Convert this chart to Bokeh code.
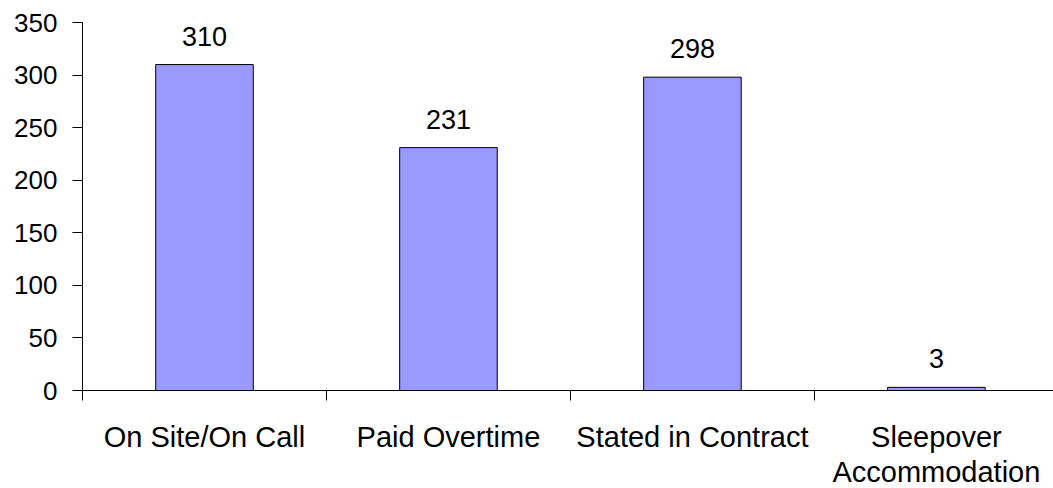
from bokeh.plotting import figure
from bokeh.models import ColumnDataSource, FixedTicker, LabelSet, Range1d
from bokeh.core.properties import value
from bokeh.embed import file_html
from bokeh.resources import INLINE

categories = ["On Site/On Call", "Paid Overtime", "Stated in Contract", "Sleepover\nAccommodation"]
values = [310, 231, 298, 3]
y_ticks = [0, 50, 100, 150, 200, 250, 300, 350]

centers = [i + 0.5 for i in range(len(categories))]
bounds = list(range(len(categories) + 1))

src = ColumnDataSource(dict(x=centers, top=values, label=[str(v) for v in values]))

FONT = "Liberation Sans"

p = figure(frame_width=971, frame_height=368, output_backend="svg", toolbar_location=None,
           x_range=Range1d(0, 3.98), y_range=Range1d(0, 350),
           min_border_left=82, min_border_right=0, min_border_top=22, min_border_bottom=0)
p.outline_line_color = None
p.xgrid.visible = False
p.ygrid.visible = False
p.background_fill_color = "white"
p.border_fill_color = "white"

p.vbar(x="x", top="top", bottom=0, width=0.4, source=src,
       fill_color="#9999FF", line_color="black", line_width=1)

labels = LabelSet(x="x", y="top", text="label", source=src, text_align="center",
                  text_baseline="alphabetic", y_offset=19,
                  text_font=value(FONT), text_font_size=value("27px"), text_color="black")
p.add_layout(labels)

# x axis
xa = p.xaxis[0]
xa.ticker = FixedTicker(ticks=centers, minor_ticks=bounds)
xa.major_label_overrides = {c: lab for c, lab in zip(centers, categories)}
xa.major_tick_out = 0
xa.major_tick_in = 0
xa.minor_tick_out = 10
xa.minor_tick_in = 0
xa.minor_tick_line_color = "black"
xa.axis_line_color = "black"
xa.major_label_text_font = FONT
xa.major_label_text_font_size = "29px"
xa.major_label_text_color = "black"
xa.major_label_text_line_height = 1.12
xa.major_label_standoff = 20
xa.major_label_orientation = "horizontal"

# y axis
ya = p.yaxis[0]
ya.ticker = FixedTicker(ticks=y_ticks, minor_ticks=[])
ya.major_tick_out = 10
ya.major_tick_in = 0
ya.major_tick_line_color = "black"
ya.axis_line_color = "black"
ya.major_label_text_font = FONT
ya.major_label_text_font_size = "26px"
ya.major_label_text_color = "black"
ya.major_label_standoff = 15

open("out.html", "w").write(file_html(p, INLINE))
